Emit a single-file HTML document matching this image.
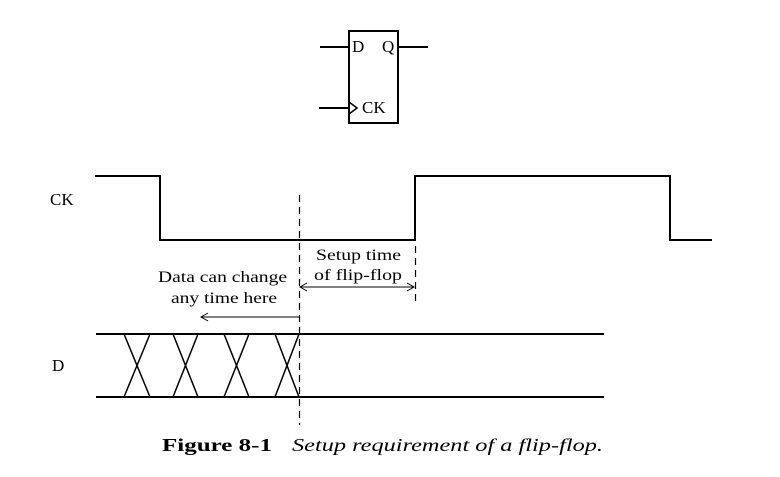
<!DOCTYPE html>
<html><head><style>body{margin:0;background:#fff} svg text{font-family:"Liberation Serif","Times New Roman",serif}</style></head><body>
<svg width="780" height="472" xmlns="http://www.w3.org/2000/svg">
<g stroke="#000" fill="none">
<rect x="349" y="31" width="49" height="92" stroke-width="2"/>
<line x1="320" y1="47" x2="349" y2="47" stroke-width="2"/>
<line x1="398" y1="47" x2="428" y2="47" stroke-width="2"/>
<line x1="319" y1="108" x2="349" y2="108" stroke-width="2"/>
<polyline points="349,102 357,108 349,114" stroke-width="1.5"/>
<polyline points="95,176 160,176 160,240 415,240 415,176 670,176 670,240 712,240" stroke-width="2"/>
<line x1="299.5" y1="195" x2="299.5" y2="425" stroke-width="1.2" stroke-dasharray="7,5"/>
<line x1="415.5" y1="246" x2="415.5" y2="302" stroke-width="1.2" stroke-dasharray="7,5"/>
<line x1="300" y1="287" x2="414" y2="287" stroke-width="1"/>
<polyline points="307,283 300,287 307,291" stroke-width="1"/>
<polyline points="407,283 414,287 407,291" stroke-width="1"/>
<line x1="201" y1="317" x2="299" y2="317" stroke-width="1"/>
<polyline points="208,313 201,317 208,321" stroke-width="1"/>
<line x1="96" y1="334" x2="604" y2="334" stroke-width="2"/>
<line x1="96" y1="397" x2="604" y2="397" stroke-width="2"/>
<g stroke-width="1.5">
<line x1="124" y1="334" x2="150" y2="397"/><line x1="150" y1="334" x2="124" y2="397"/>
<line x1="173" y1="334" x2="198" y2="397"/><line x1="198" y1="334" x2="173" y2="397"/>
<line x1="224" y1="334" x2="249" y2="397"/><line x1="249" y1="334" x2="224" y2="397"/>
<line x1="275" y1="334" x2="299" y2="397"/><line x1="299" y1="334" x2="275" y2="397"/>
</g>
</g>
<g font-size="17" fill="#000">
<text x="352" y="52">D</text>
<text x="382" y="52">Q</text>
<text x="362" y="113">CK</text>
<text x="50" y="205">CK</text>
<text x="52" y="371">D</text>
</g>
<g font-size="16" fill="#000">
<text x="316" y="260" textLength="85" lengthAdjust="spacingAndGlyphs">Setup time</text>
<text x="314" y="280" textLength="88" lengthAdjust="spacingAndGlyphs">of flip-flop</text>
<text x="158" y="282" textLength="129" lengthAdjust="spacingAndGlyphs">Data can change</text>
<text x="171" y="303" textLength="106" lengthAdjust="spacingAndGlyphs">any time here</text>
</g>
<text x="162" y="451" font-size="18" font-weight="bold" textLength="110" lengthAdjust="spacingAndGlyphs">Figure 8-1</text>
<text x="292" y="451" font-size="18" font-style="italic" textLength="311" lengthAdjust="spacingAndGlyphs">Setup requirement of a flip-flop.</text>
</svg>
</body></html>
